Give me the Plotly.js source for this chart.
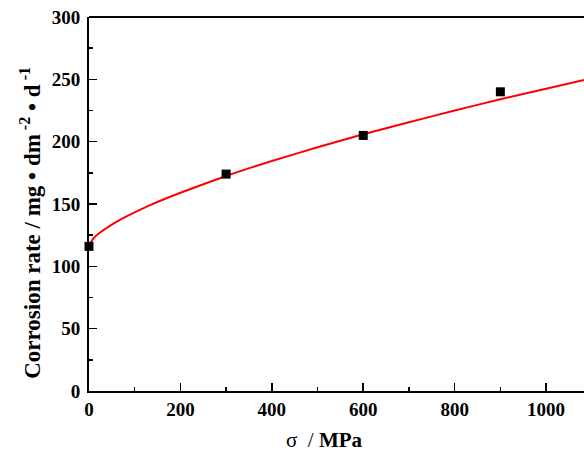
<!DOCTYPE html>
<html>
<head>
<meta charset="utf-8">
<script src="https://cdn.plot.ly/plotly-3.0.1.min.js"></script>
<style>html,body{margin:0;padding:0;background:#fff;overflow:hidden}</style>
</head>
<body>
<div id="chart" style="width:584px;height:454px"></div>
<script>
// measured points
var stressX = [0, 300, 600, 900];
var rateY = [116, 174, 205, 240];
// fitted curve
var fitX = [0, 10, 25, 50, 80, 130, 200, 300, 400, 500, 600, 700, 800, 900, 1000, 1083];
var fitY = [117, 122.5, 127.3, 133.5, 139.6, 148.5, 159, 172.5, 184.5, 195.5, 206, 215.5, 225, 234, 242.5, 249.5];
var xTicks = [0, 200, 400, 600, 800, 1000];
var yTicks = [0, 50, 100, 150, 200, 250, 300];

var fontFam = '"Liberation Serif", "Times New Roman", serif';

var traces = [
  {
    x: fitX, y: fitY, type: 'scatter', mode: 'lines',
    line: {color: '#ff0000', width: 2, shape: 'spline', smoothing: 0.5},
    hoverinfo: 'skip'
  },
  {
    x: stressX, y: rateY, type: 'scatter', mode: 'markers',
    marker: {symbol: 'square', size: 9, color: '#000000'},
    cliponaxis: false
  }
];

var layout = {
  width: 584, height: 454,
  margin: {l: 89, r: 0, t: 17, b: 63},
  paper_bgcolor: '#ffffff', plot_bgcolor: '#ffffff',
  showlegend: false,
  font: {family: fontFam, color: '#000'},
  xaxis: {
    range: [0, 1083], showgrid: false, zeroline: false,
    showline: true, linecolor: '#000', linewidth: 2,
    ticks: 'inside', ticklen: 8, tickwidth: 1.5, tickcolor: '#000',
    tickvals: xTicks, ticktext: xTicks.map(String),
    tickfont: {family: fontFam, size: 19, color: '#000', weight: 'bold'},
    minor: {dtick: 100, ticks: 'inside', ticklen: 4, tickwidth: 1.5, tickcolor: '#000', showgrid: false}
  },
  yaxis: {
    range: [0, 300], showgrid: false, zeroline: false,
    showline: true, linecolor: '#000', linewidth: 2,
    ticks: 'inside', ticklen: 8, tickwidth: 1.5, tickcolor: '#000',
    tickvals: yTicks, ticktext: yTicks.map(String),
    ticklabelstandoff: 3,
    tickfont: {family: fontFam, size: 19, color: '#000', weight: 'bold'},
    minor: {dtick: 25, ticks: 'inside', ticklen: 4, tickwidth: 1.5, tickcolor: '#000', showgrid: false}
  },
  annotations: [
    {xref: 'paper', yref: 'paper', x: 0.475, y: -0.131, xanchor: 'center', yanchor: 'middle',
     showarrow: false, text: 'σ  / <b>MPa</b>', font: {family: fontFam, size: 21, color: '#000'}},
    {xref: 'paper', yref: 'paper', x: -0.117, y: 0.45, xanchor: 'center', yanchor: 'middle',
     showarrow: false, textangle: -90,
     text: '<b>Corrosion rate / mg • dm<sup> -2</sup> • d<sup> -1</sup></b>', font: {family: fontFam, size: 23, color: '#000'}}
  ],
  shapes: [
    {type: 'line', xref: 'paper', yref: 'paper', x0: 0, x1: 1, y0: 1, y1: 1, line: {color: '#000', width: 2}}
  ]
};

Plotly.newPlot('chart', traces, layout, {displayModeBar: false, staticPlot: true});
</script>
</body>
</html>
